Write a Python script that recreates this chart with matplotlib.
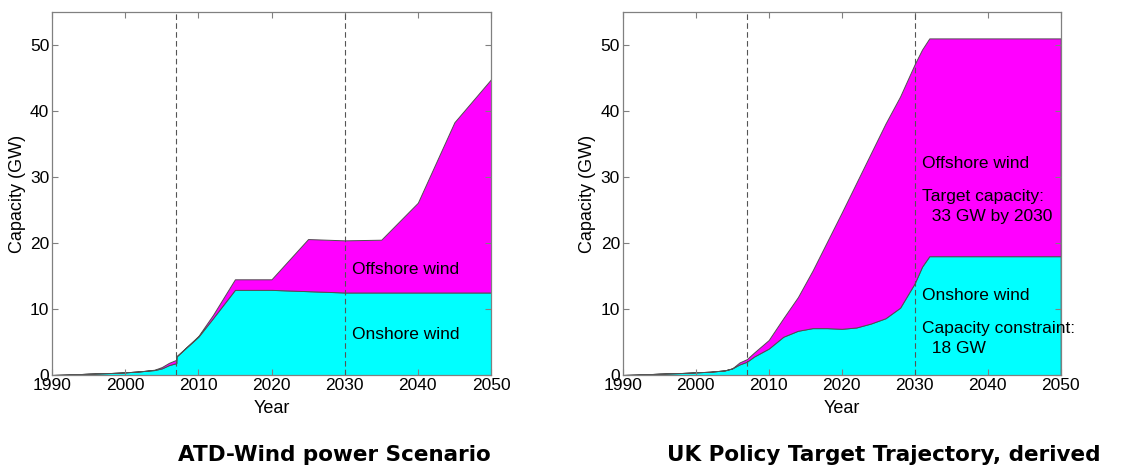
import matplotlib
matplotlib.use("Agg")
import matplotlib.pyplot as plt
import numpy as np

# ---- Data: ATD-Wind power Scenario ----
atd_years    = [1990, 1993, 1995, 1998, 2000, 2002, 2004, 2005, 2006, 2006.99, 2007, 2010, 2012, 2015, 2020, 2025, 2030, 2035, 2040, 2045, 2050]
atd_onshore  = [0.0, 0.1, 0.2, 0.3, 0.4, 0.55, 0.75, 1.0, 1.5, 1.8, 2.8, 5.8, 8.6, 12.9, 12.9, 12.7, 12.5, 12.5, 12.5, 12.5, 12.5]
atd_offshore = [0.0, 0.0, 0.0, 0.0, 0.0, 0.0, 0.05, 0.2, 0.35, 0.5, 0.0, 0.1, 0.5, 1.6, 1.6, 7.9, 7.9, 8.0, 13.6, 25.8, 32.3]

# ---- Data: UK Policy Target Trajectory ----
uk_years    = [1990, 1993, 1995, 1998, 2000, 2002, 2004, 2005, 2006, 2007, 2008, 2010, 2012, 2014, 2016, 2018, 2020, 2022, 2024, 2026, 2028, 2030, 2031, 2032, 2035, 2040, 2045, 2050]
uk_onshore  = [0.0, 0.1, 0.2, 0.3, 0.4, 0.5, 0.7, 1.0, 1.6, 2.0, 2.8, 4.0, 5.8, 6.7, 7.1, 7.1, 7.0, 7.2, 7.8, 8.6, 10.2, 13.9, 16.4, 18.0, 18.0, 18.0, 18.0, 18.0]
uk_total    = [0.0, 0.1, 0.2, 0.3, 0.4, 0.5, 0.7, 1.0, 1.9, 2.4, 3.4, 5.3, 8.6, 11.8, 15.8, 20.2, 24.6, 29.1, 33.6, 38.1, 42.2, 47.1, 49.3, 51.0, 51.0, 51.0, 51.0, 51.0]
uk_offshore = [t - o for t, o in zip(uk_total, uk_onshore)]

xticks = [1990, 2000, 2010, 2020, 2030, 2040, 2050]
yticks = [0, 10, 20, 30, 40, 50]
vlines = [2007, 2030]

plt.rcParams['font.family'] = ['Liberation Sans', 'DejaVu Sans']

fig = plt.figure(figsize=(11.23, 4.68), dpi=100)
W, H = 1123, 468
ax1 = fig.add_axes([52 / W, (H - 375) / H, 439 / W, 363 / H])
ax2 = fig.add_axes([622.7 / W, (H - 375) / H, 438 / W, 363 / H])

CYAN = '#00FFFF'
MAG = '#FF00FF'
EDGE = '#505050'
FRAME = '#808080'
FS = 12.5


def draw(ax, years, on, off):
    ax.stackplot(years, on, off, colors=[CYAN, MAG], edgecolor=EDGE, linewidth=0.7)
    for v in vlines:
        ax.axvline(v, color='#555555', linestyle=(0, (5, 3)), linewidth=0.8, zorder=3)
    ax.set_xlim(1990, 2050)
    ax.set_ylim(0, 55)
    ax.set_xticks(xticks)
    ax.set_yticks(yticks)
    ax.tick_params(direction='in', length=4, width=0.8, color=FRAME,
                   top=True, right=True, labelsize=FS, pad=2, labelcolor='black')
    for s in ax.spines.values():
        s.set_color(FRAME)
        s.set_linewidth(0.9)
    ax.set_xlabel('Year', fontsize=13, labelpad=5)
    ax.set_ylabel('Capacity (GW)', fontsize=13, labelpad=3)


draw(ax1, atd_years, atd_onshore, atd_offshore)
draw(ax2, uk_years, uk_onshore, uk_offshore)

ax1.text(2031, 16.0, 'Offshore wind', fontsize=FS, va='center', ha='left', zorder=4)
ax1.text(2031, 6.1, 'Onshore wind', fontsize=FS, va='center', ha='left', zorder=4)

ax2.text(2031, 32.0, 'Offshore wind', fontsize=FS, va='center', ha='left', zorder=4)
ax2.text(2031, 27.0, 'Target capacity:', fontsize=FS, va='center', ha='left', zorder=4)
ax2.text(2031, 24.0, '  33 GW by 2030', fontsize=FS, va='center', ha='left', zorder=4)
ax2.text(2031, 12.0, 'Onshore wind', fontsize=FS, va='center', ha='left', zorder=4)
ax2.text(2031, 7.0, 'Capacity constraint:', fontsize=FS, va='center', ha='left', zorder=4)
ax2.text(2031, 4.05, '  18 GW', fontsize=FS, va='center', ha='left', zorder=4)

fig.text(334 / W, 1 - 455 / H, 'ATD-Wind power Scenario', fontsize=15.5, fontweight='bold',
         family='DejaVu Sans', ha='center', va='center')
fig.text(884 / W, 1 - 455 / H, 'UK Policy Target Trajectory, derived', fontsize=15.5, fontweight='bold',
         family='DejaVu Sans', ha='center', va='center')

fig.savefig('out.png', dpi=100)
